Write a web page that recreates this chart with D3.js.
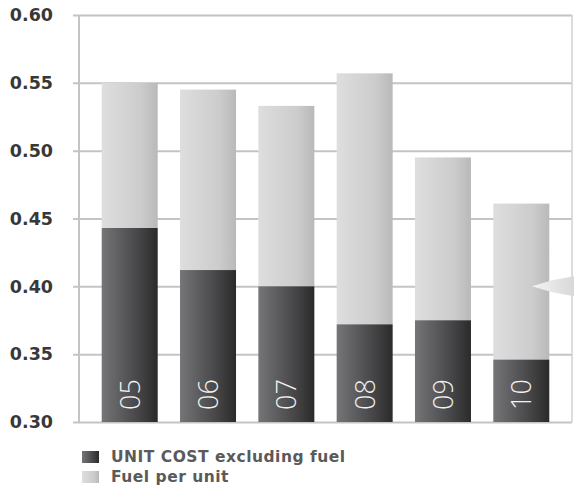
<!DOCTYPE html>
<html>
<head>
<meta charset="utf-8">
<script src="https://cdn.jsdelivr.net/npm/d3@7"></script>
<style>
  html, body { margin: 0; padding: 0; background: #fff; }
  svg { display: block; }
</style>
</head>
<body>
<svg id="chart" width="574" height="488"></svg>
<script>
// Years shown on the bars
const years = ["05", "06", "07", "08", "09", "10"];
// Unit cost excluding fuel (dark segment, from the 0.30 baseline)
const unitCostExFuel = [0.443, 0.412, 0.400, 0.372, 0.375, 0.346];
// Total unit cost including fuel (top of the light segment)
const unitCostTotal = [0.550, 0.545, 0.533, 0.557, 0.495, 0.461];
// Y axis tick values
const yTicks = [0.30, 0.35, 0.40, 0.45, 0.50, 0.55, 0.60];
// Legend entries
const legendLabels = ["UNIT COST excluding fuel", "Fuel per unit"];
// Marker value on the right edge
const markerValue = 0.40;

const svg = d3.select("#chart");
const plot = { left: 79, right: 572, top: 15, bottom: 422 };

const x = d3.scaleBand()
  .domain(years)
  .range([plot.left, plot.right])
  .paddingInner(0.285)
  .paddingOuter(0.29);

const y = d3.scaleLinear()
  .domain([0.30, 0.60])
  .range([plot.bottom, plot.top]);

const defs = svg.append("defs");
function hGrad(id, stops) {
  const g = defs.append("linearGradient").attr("id", id)
    .attr("x1", "0%").attr("x2", "100%").attr("y1", "0%").attr("y2", "0%");
  stops.forEach(([o, c]) => g.append("stop").attr("offset", o).attr("stop-color", c));
}
hGrad("gDark", [["0%", "#757577"], ["60%", "#4a4a4c"], ["100%", "#2b2a2b"]]);
hGrad("gLight", [["0%", "#dedede"], ["70%", "#cccccc"], ["100%", "#b9b9b9"]]);
hGrad("gArrow", [["0%", "#f4f4f4"], ["100%", "#d8d8d8"]]);

// Horizontal grid lines with left tick stubs
const grid = svg.append("g")
  .attr("transform", `translate(${plot.left},0)`)
  .call(d3.axisLeft(y).tickValues(yTicks).tickSize(-(plot.right - plot.left)).tickFormat(""));
grid.select(".domain").remove();
grid.selectAll(".tick line")
  .attr("x1", -6)
  .attr("stroke", "#c4c4c4")
  .attr("stroke-width", 2);

// Y axis line and right border
svg.append("line")
  .attr("x1", plot.left).attr("x2", plot.left)
  .attr("y1", y(0.60)).attr("y2", y(0.30))
  .attr("stroke", "#c4c4c4").attr("stroke-width", 2);
svg.append("line")
  .attr("x1", plot.right).attr("x2", plot.right)
  .attr("y1", y(0.60)).attr("y2", y(0.30))
  .attr("stroke", "#d0d0d0").attr("stroke-width", 1.5);

// Tick labels
svg.append("g").selectAll("text")
  .data(yTicks)
  .join("text")
  .attr("x", 53)
  .attr("y", d => y(d))
  .attr("dy", "0.36em")
  .attr("text-anchor", "end")
  .attr("font-family", "'DejaVu Sans', sans-serif")
  .attr("font-weight", 700)
  .attr("font-size", 17.5)
  .attr("fill", "#383838")
  .text(d => d.toFixed(2));

// Light segment: fuel per unit
svg.append("g").selectAll("rect")
  .data(years)
  .join("rect")
  .attr("x", d => x(d))
  .attr("width", x.bandwidth())
  .attr("y", (d, i) => y(unitCostTotal[i]))
  .attr("height", (d, i) => y(unitCostExFuel[i]) - y(unitCostTotal[i]))
  .attr("fill", "url(#gLight)");

// Dark segment: unit cost excluding fuel
svg.append("g").selectAll("rect")
  .data(years)
  .join("rect")
  .attr("x", d => x(d))
  .attr("width", x.bandwidth())
  .attr("y", (d, i) => y(unitCostExFuel[i]))
  .attr("height", (d, i) => y(0.30) - y(unitCostExFuel[i]))
  .attr("fill", "url(#gDark)");

// Year labels, rotated inside the dark segments
svg.append("g").selectAll("text")
  .data(years)
  .join("text")
  .attr("transform", d => `translate(${x(d) + x.bandwidth() / 2 + 10},${plot.bottom - 12}) rotate(-90)`)
  .attr("text-anchor", "start")
  .attr("font-family", "'Open Sans', sans-serif")
  .attr("font-weight", 300)
  .attr("font-size", 27)
  .attr("fill", "#f2f2f2")
  .text(d => d);

// Pointer on the right edge
const ay = y(markerValue);
svg.append("path")
  .attr("d", `M532,${ay} L552,${ay - 6} L574,${ay - 10} L574,${ay + 10} L552,${ay + 6} Z`)
  .attr("fill", "url(#gArrow)");

// Legend
const legend = svg.append("g").attr("transform", "translate(82,451)");
const legendFills = ["url(#gDark)", "url(#gLight)"];
legendLabels.forEach((label, i) => {
  const row = legend.append("g").attr("transform", `translate(0,${i * 20})`);
  row.append("rect")
    .attr("width", 17).attr("height", 12)
    .attr("fill", legendFills[i]);
  row.append("text")
    .attr("x", 29).attr("y", 11)
    .attr("font-family", "'DejaVu Sans', sans-serif")
    .attr("font-weight", 700)
    .attr("font-size", 15.5)
    .attr("letter-spacing", 0.5)
    .attr("fill", "#5a5a5a")
    .text(label);
});
</script>
</body>
</html>
